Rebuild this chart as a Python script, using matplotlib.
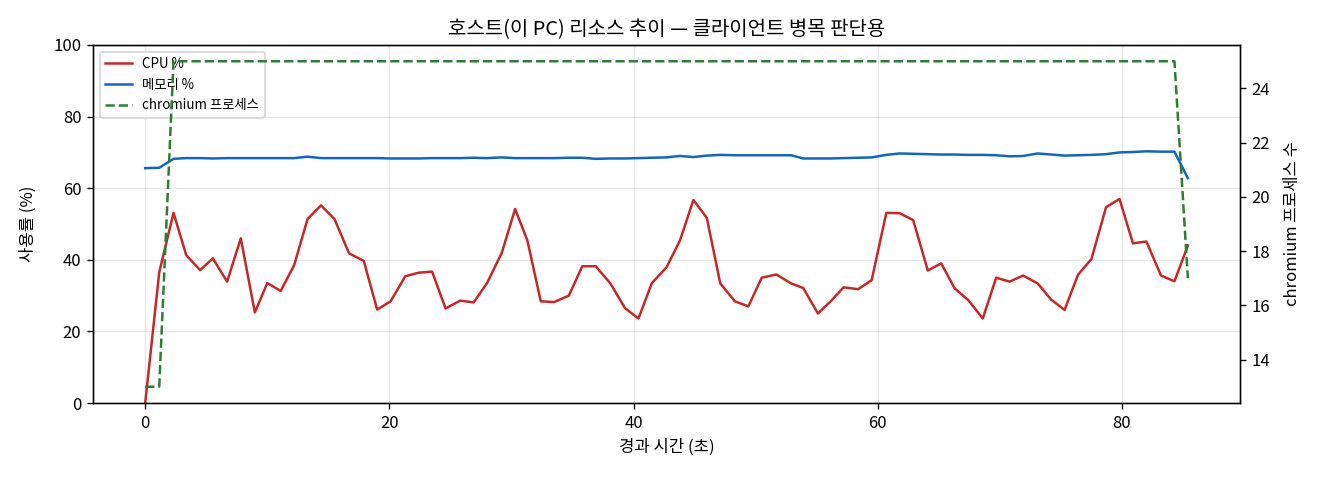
import matplotlib
matplotlib.use("Agg")
import matplotlib.pyplot as plt

plt.rcParams['font.family'] = ['Noto Sans CJK KR', 'DejaVu Sans']
plt.rcParams['axes.unicode_minus'] = False

elapsed_s = [0, 1.15, 2.32, 3.36, 4.5, 5.54, 6.71, 7.83, 8.98, 10.0, 11.1, 12.2, 13.3, 14.4, 15.5, 16.7,
             17.9, 19.0, 20.1, 21.3, 22.4, 23.5, 24.6, 25.8, 26.9, 28.0, 29.2, 30.3, 31.3, 32.4, 33.5,
             34.7, 35.8, 36.9, 38.1, 39.3, 40.4, 41.5, 42.7, 43.8, 44.9, 46.0, 47.1, 48.3, 49.4, 50.5,
             51.7, 52.9, 53.9, 55.1, 56.2, 57.2, 58.4, 59.5, 60.7, 61.8, 62.9, 64.1, 65.2, 66.3, 67.4,
             68.6, 69.7, 70.8, 71.9, 73.1, 74.2, 75.3, 76.4, 77.5, 78.7, 79.8, 80.9, 82.0, 83.2, 84.3, 85.4]

cpu_pct = [0, 36.5, 53.1, 41.3, 37.1, 40.4, 33.9, 46.0, 25.3, 33.5, 31.3, 38.5, 51.4, 55.2, 51.4, 41.8,
           39.7, 26.1, 28.4, 35.4, 36.4, 36.7, 26.4, 28.6, 28.1, 33.5, 41.9, 54.2, 45.4, 28.4, 28.2,
           30.0, 38.2, 38.2, 33.4, 26.5, 23.6, 33.5, 37.9, 45.4, 56.7, 51.7, 33.4, 28.4, 27.0, 35.0,
           35.9, 33.4, 32.1, 25.0, 28.6, 32.3, 31.8, 34.3, 53.1, 53.0, 51.1, 37.0, 39.0, 32.0, 28.8,
           23.6, 35.0, 33.9, 35.6, 33.4, 28.9, 26.0, 35.8, 40.2, 54.7, 57.0, 44.6, 45.1, 35.6, 34.0, 44.0]

mem_pct = [65.6, 65.7, 68.2, 68.4, 68.4, 68.3, 68.4, 68.4, 68.4, 68.4, 68.4, 68.4, 68.8, 68.4, 68.4, 68.4,
           68.4, 68.4, 68.3, 68.3, 68.3, 68.4, 68.4, 68.4, 68.5, 68.4, 68.6, 68.4, 68.4, 68.4, 68.4,
           68.5, 68.5, 68.2, 68.3, 68.3, 68.4, 68.5, 68.6, 69.0, 68.7, 69.1, 69.3, 69.2, 69.2, 69.2,
           69.2, 69.2, 68.3, 68.3, 68.3, 68.4, 68.5, 68.6, 69.3, 69.7, 69.6, 69.5, 69.4, 69.4, 69.3,
           69.3, 69.2, 68.9, 69.0, 69.7, 69.4, 69.1, 69.2, 69.3, 69.5, 70.0, 70.1, 70.3, 70.2, 70.2, 62.8]

chromium_procs = [13, 13, 25, 25, 25, 25, 25, 25, 25, 25, 25, 25, 25, 25, 25, 25,
                  25, 25, 25, 25, 25, 25, 25, 25, 25, 25, 25, 25, 25, 25, 25,
                  25, 25, 25, 25, 25, 25, 25, 25, 25, 25, 25, 25, 25, 25, 25,
                  25, 25, 25, 25, 25, 25, 25, 25, 25, 25, 25, 25, 25, 25, 25,
                  25, 25, 25, 25, 25, 25, 25, 25, 25, 25, 25, 25, 25, 25, 25, 17]

fig = plt.figure(figsize=(11, 4), dpi=120)
ax = fig.add_axes([0.0705, 0.1604, 0.8689, 0.7459])
ax2 = ax.twinx()

l1, = ax.plot(elapsed_s, cpu_pct, color='#c62828', lw=1.5, label='CPU %')
l2, = ax.plot(elapsed_s, mem_pct, color='#1565c0', lw=1.5, label='메모리 %')
l3, = ax2.plot(elapsed_s, chromium_procs, color='#2e7d32', lw=1.5, ls='--', label='chromium 프로세스')

ax.set_ylim(0, 100)
ax.grid(True, alpha=0.3)
ax.set_xlabel('경과 시간 (초)', fontsize=10)
ax.set_ylabel('사용률 (%)', fontsize=10, labelpad=10)
ax2.set_ylabel('chromium 프로세스 수', fontsize=10, labelpad=8)
ax.set_title('호스트(이 PC) 리소스 추이 — 클라이언트 병목 판단용', fontsize=12)
ax.tick_params(labelsize=10)
ax2.tick_params(labelsize=10)

ax.legend(handles=[l1, l2, l3], loc='upper left', fontsize=8)

fig.savefig('out.png', dpi=120)
